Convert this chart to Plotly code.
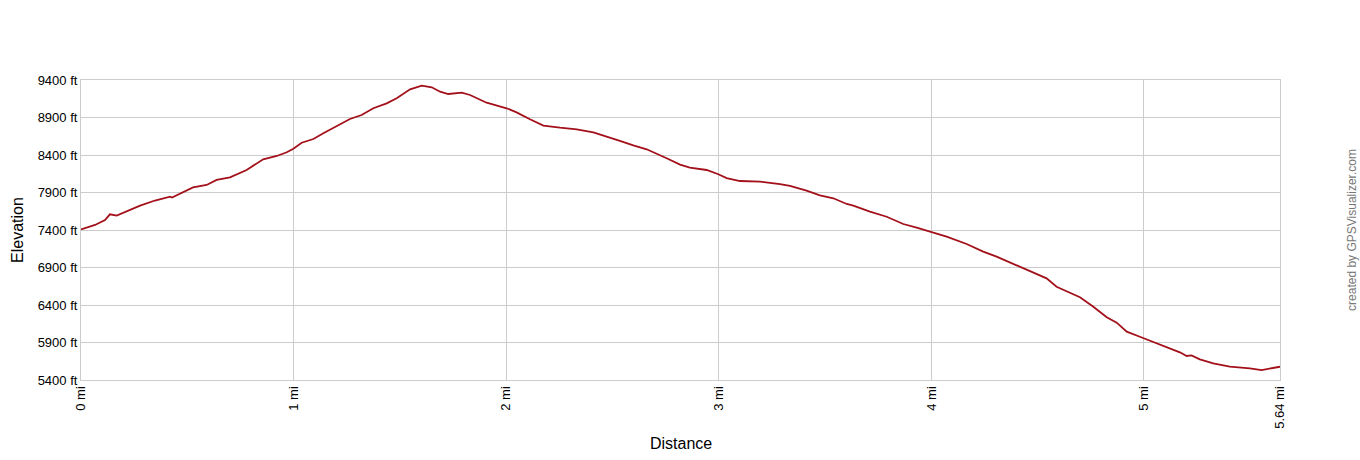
import plotly.graph_objects as go

# distance (mi) and elevation (ft)
dist_mi = [0.000, 0.066, 0.113, 0.136, 0.168, 0.230, 0.278, 0.348, 0.419, 0.428,
           0.527, 0.591, 0.638, 0.701, 0.779, 0.857, 0.921, 0.968, 0.999, 1.038,
           1.093, 1.140, 1.203, 1.265, 1.320, 1.375, 1.438, 1.485, 1.548, 1.603,
           1.650, 1.689, 1.728, 1.791, 1.830, 1.908, 2.002, 2.049, 2.112, 2.175,
           2.253, 2.332, 2.410, 2.488, 2.535, 2.598, 2.661, 2.755, 2.818, 2.864,
           2.943, 2.998, 3.037, 3.100, 3.194, 3.288, 3.335, 3.413, 3.476, 3.539,
           3.602, 3.633, 3.711, 3.790, 3.868, 3.931, 4.001, 4.072, 4.166, 4.244,
           4.307, 4.385, 4.464, 4.542, 4.589, 4.652, 4.699, 4.762, 4.825, 4.872,
           4.919, 4.981, 5.060, 5.122, 5.169, 5.201, 5.224, 5.263, 5.326, 5.404,
           5.498, 5.554, 5.593, 5.640]
elev_ft = [7409, 7467, 7533, 7609, 7591, 7667, 7724, 7793, 7844, 7833,
           7969, 8000, 8067, 8103, 8200, 8343, 8387, 8436, 8484, 8564,
           8613, 8689, 8787, 8880, 8933, 9023, 9089, 9156, 9276, 9324,
           9303, 9244, 9213, 9231, 9200, 9097, 9023, 8969, 8876, 8791,
           8764, 8743, 8703, 8636, 8587, 8529, 8476, 8356, 8271, 8231,
           8200, 8143, 8093, 8053, 8044, 8013, 7987, 7924, 7863, 7823,
           7747, 7724, 7644, 7577, 7480, 7431, 7373, 7311, 7213, 7111,
           7044, 6947, 6857, 6756, 6644, 6569, 6503, 6377, 6236, 6164,
           6044, 5977, 5889, 5827, 5769, 5720, 5729, 5676, 5623, 5577,
           5556, 5533, 5556, 5577]

x_ticks = [0, 1, 2, 3, 4, 5, 5.64]
x_labels = ["0 mi", "1 mi", "2 mi", "3 mi", "4 mi", "5 mi", "5.64 mi"]
y_ticks = [5400, 5900, 6400, 6900, 7400, 7900, 8400, 8900, 9400]
y_labels = [f"{v} ft" for v in y_ticks]

FONT = "Arial, Liberation Sans, sans-serif"

fig = go.Figure()
fig.add_trace(go.Scatter(
    x=dist_mi, y=elev_ft,
    mode="lines",
    line=dict(color="#a3101a", width=1.8),
    showlegend=False,
    hovertemplate="%{x:.2f} mi<br>%{y:.0f} ft<extra></extra>",
))

fig.update_xaxes(
    range=[0, 5.64],
    tickvals=x_ticks, ticktext=x_labels,
    tickangle=-90,
    showgrid=True, gridcolor="#cccccc", gridwidth=1,
    showline=True, linecolor="#cccccc", mirror=True,
    zeroline=False, ticks="", automargin=False,
    tickfont=dict(family=FONT, size=13, color="#000"),
)
fig.update_yaxes(
    range=[5400, 9400],
    tickvals=y_ticks, ticktext=y_labels,
    showgrid=True, gridcolor="#cccccc", gridwidth=1,
    showline=True, linecolor="#cccccc", mirror=True,
    zeroline=False, ticks="", automargin=False,
    tickfont=dict(family=FONT, size=13, color="#000"),
)

# axis titles placed as annotations so they sit where the reference has them
fig.add_annotation(
    text="Distance", xref="paper", yref="paper", x=0.5, y=-0.213,
    xanchor="center", yanchor="middle", showarrow=False,
    font=dict(family=FONT, size=16, color="#000"),
)
fig.add_annotation(
    text="Elevation", xref="paper", yref="paper", x=-0.0534, y=0.5,
    xanchor="center", yanchor="middle", textangle=-90, showarrow=False,
    font=dict(family=FONT, size=16, color="#000"),
)
fig.add_annotation(
    text="created by GPSVisualizer.com",
    xref="paper", yref="paper", x=1.060, y=0.5,
    xanchor="center", yanchor="middle",
    textangle=-90, showarrow=False,
    font=dict(family=FONT, size=12, color="#777777"),
)

fig.update_layout(
    width=1360, height=460,
    margin=dict(l=81, r=80, t=80, b=80),
    plot_bgcolor="white", paper_bgcolor="white",
    font=dict(family=FONT),
)

# drop the default 8px body margin so the figure fills the window exactly
fig.write_html("out.html", config={"displayModeBar": False},
               post_script="document.body.style.margin='0px';")
